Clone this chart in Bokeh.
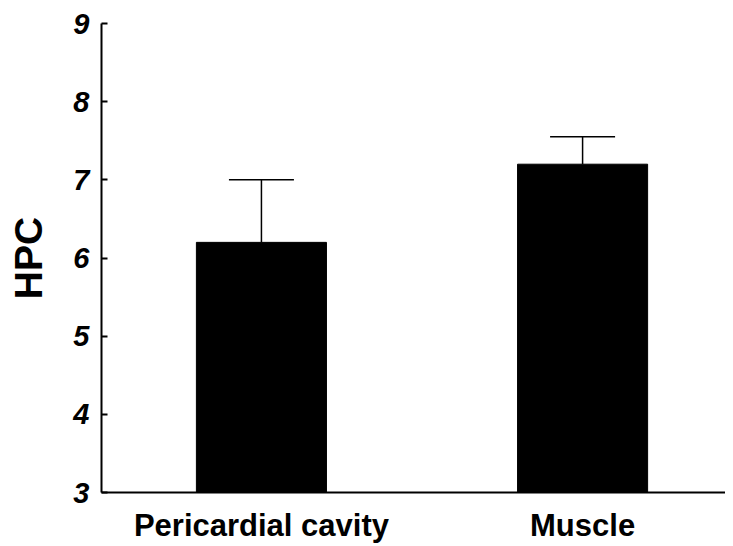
from bokeh.plotting import figure
from bokeh.models import ColumnDataSource, Whisker, TeeHead, FixedTicker, Range1d
from bokeh.embed import file_html
from bokeh.resources import INLINE

categories = ["Pericardial cavity", "Muscle"]
values = [6.2, 7.2]
errors = [0.8, 0.35]
y_ticks = [3, 4, 5, 6, 7, 8, 9]

xs = list(range(len(categories)))
src = ColumnDataSource(dict(
    x=xs, top=values,
    upper=[v + e for v, e in zip(values, errors)],
))

p = figure(width=725, height=545, output_backend="svg", toolbar_location=None,
           x_range=Range1d(-0.498, 1.445), y_range=Range1d(3, 9),
           min_border_left=101, min_border_top=23, min_border_bottom=52, min_border_right=0)
p.outline_line_color = None
p.xgrid.visible = False
p.ygrid.visible = False

p.vbar(x="x", top="top", bottom=3, width=0.405, source=src,
       fill_color="black", line_color="black")
p.add_layout(Whisker(source=src, base="x", lower="top", upper="upper",
                     line_color="black", line_width=1.5,
                     upper_head=TeeHead(size=65, line_color="black", line_width=1.5),
                     lower_head=None))

font = "Liberation Sans"
p.yaxis.ticker = FixedTicker(ticks=y_ticks)
p.yaxis.major_tick_in = 6
p.yaxis.major_tick_out = 0
p.yaxis.minor_tick_line_color = None
p.yaxis.axis_line_width = 2
p.yaxis.major_tick_line_width = 2
p.yaxis.major_label_text_font = font
p.yaxis.major_label_text_font_style = "bold italic"
p.yaxis.major_label_text_font_size = "29px"
p.yaxis.major_label_text_color = "black"
p.yaxis.major_label_standoff = 12
p.yaxis.axis_label = "HPC"
p.yaxis.axis_label_text_font = font
p.yaxis.axis_label_text_font_style = "bold"
p.yaxis.axis_label_text_font_size = "39px"
p.yaxis.axis_label_text_color = "black"
p.yaxis.axis_label_standoff = 20

p.xaxis.ticker = FixedTicker(ticks=xs)
p.xaxis.major_label_overrides = {i: c for i, c in zip(xs, categories)}
p.xaxis.major_tick_line_color = None
p.xaxis.minor_tick_line_color = None
p.xaxis.axis_line_width = 2
p.xaxis.major_label_text_font = font
p.xaxis.major_label_text_font_style = "bold"
p.xaxis.major_label_text_font_size = "31px"
p.xaxis.major_label_text_color = "black"
p.xaxis.major_label_standoff = 9

open("out.html", "w").write(file_html(p, INLINE))
